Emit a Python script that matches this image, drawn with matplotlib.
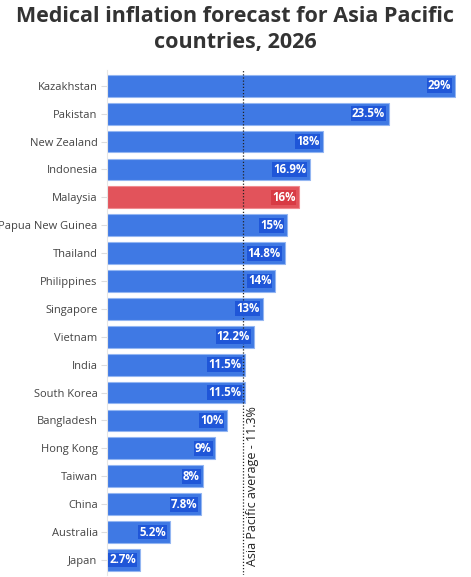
import matplotlib.pyplot as plt

countries = ["Kazakhstan", "Pakistan", "New Zealand", "Indonesia", "Malaysia",
             "Papua New Guinea", "Thailand", "Philippines", "Singapore", "Vietnam",
             "India", "South Korea", "Bangladesh", "Hong Kong", "Taiwan", "China",
             "Australia", "Japan"]
values = [29, 23.5, 18, 16.9, 16, 15, 14.8, 14, 13, 12.2, 11.5, 11.5, 10, 9, 8, 7.8, 5.2, 2.7]
labels = ["29%", "23.5%", "18%", "16.9%", "16%", "15%", "14.8%", "14%", "13%", "12.2%",
          "11.5%", "11.5%", "10%", "9%", "8%", "7.8%", "5.2%", "2.7%"]
highlight = "Malaysia"
avg = 11.3

plt.rcParams['font.family'] = ['Open Sans', 'DejaVu Sans']

fig = plt.figure(figsize=(4.71, 5.77), dpi=100)
ax = fig.add_axes([0.228, 0.003, 0.74, 0.875])

blue, red = "#3f79e4", "#e2535b"
ys = list(range(len(countries)))
cols = [red if c == highlight else blue for c in countries]
edges = ["#f08a90" if c == highlight else "#93b6f2" for c in countries]
ax.barh(ys, values, height=0.78, color=cols, edgecolor=edges, linewidth=0.8, zorder=2)

for y, v, lab, c in zip(ys, values, labels, countries):
    bg = "#d83a44" if c == highlight else "#1f56d8"
    ax.text(v - 0.3, y, lab, ha="right", va="center", color="white", fontsize=8.3,
            fontweight="bold", zorder=4,
            bbox=dict(boxstyle="square,pad=0.08", fc=bg, ec="none"))

ax.axvline(avg, color="#222222", linestyle=(0, (1, 1.5)), linewidth=0.9, zorder=3)
ax.text(avg + 0.25, len(countries) - 1 + 0.2, "Asia Pacific average - 11.3%", rotation=90,
        ha="left", va="bottom", fontsize=9, color="#222222")

ax.set_yticks(ys)
ax.set_yticklabels(countries, fontsize=8, color="#444444")
ax.set_ylim(len(countries) - 0.45, -0.55)
ax.set_xlim(0, 29.1)
ax.set_xticks([])
ax.tick_params(axis="y", length=4, color="#dddddd", pad=3)
for s in ["top", "right", "bottom"]:
    ax.spines[s].set_visible(False)
ax.spines["left"].set_color("#e6e6e6")

fig.text(0.5, 0.99, "Medical inflation forecast for Asia Pacific\ncountries, 2026",
         ha="center", va="top", fontsize=15.5, fontweight="bold", color="#333333",
         linespacing=1.3)

fig.savefig("out.png", dpi=100)
